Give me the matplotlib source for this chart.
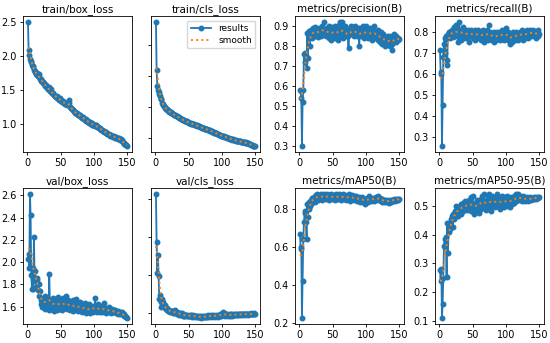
# Training results plot (YOLO style results.png)
import numpy as np
import matplotlib
matplotlib.use("Agg")
import matplotlib.pyplot as plt
from matplotlib.ticker import MultipleLocator

# Epoch numbers
epochs = list(range(1, 151))

# Panel titles
titles = ["train/box_loss", "train/cls_loss", "metrics/precision(B)", "metrics/recall(B)",
          "val/box_loss", "val/cls_loss", "metrics/mAP50(B)", "metrics/mAP50-95(B)"]

train_box_loss = [
    2.50, 2.09, 2.01, 1.96, 1.92, 1.93, 1.87, 1.84, 1.85, 1.80,
    1.78, 1.76, 1.74, 1.75, 1.72, 1.71, 1.73, 1.69, 1.67, 1.66,
    1.64, 1.63, 1.62, 1.60, 1.61, 1.58, 1.56, 1.57, 1.55, 1.53,
    1.52, 1.54, 1.50, 1.49, 1.51, 1.47, 1.46, 1.45, 1.46, 1.43,
    1.42, 1.41, 1.40, 1.41, 1.39, 1.38, 1.37, 1.36, 1.38, 1.35,
    1.34, 1.33, 1.32, 1.34, 1.31, 1.30, 1.29, 1.31, 1.28, 1.30,
    1.33, 1.36, 1.31, 1.25, 1.24, 1.23, 1.22, 1.20, 1.21, 1.19,
    1.18, 1.16, 1.17, 1.15, 1.16, 1.14, 1.15, 1.13, 1.12, 1.13,
    1.11, 1.10, 1.09, 1.10, 1.08, 1.07, 1.06, 1.07, 1.05, 1.04,
    1.05, 1.03, 1.02, 1.03, 1.01, 1.00, 1.01, 0.99, 0.98, 0.99,
    0.98, 0.97, 0.99, 0.98, 0.96, 0.95, 0.96, 0.94, 0.93, 0.94,
    0.92, 0.91, 0.92, 0.90, 0.89, 0.90, 0.88, 0.87, 0.88, 0.86,
    0.86, 0.85, 0.86, 0.84, 0.83, 0.84, 0.83, 0.82, 0.81, 0.82,
    0.81, 0.80, 0.81, 0.79, 0.80, 0.79, 0.78, 0.79, 0.77, 0.78,
    0.78, 0.76, 0.75, 0.73, 0.72, 0.71, 0.70, 0.69, 0.69, 0.68]

# cls_loss panels have no tick labels, so the scale is only relative
train_cls_loss = [
    4.75, 3.20, 2.70, 2.55, 2.50, 2.42, 2.35, 2.28, 2.25, 2.12,
    2.10, 2.08, 2.04, 2.00, 1.98, 1.95, 1.93, 1.92, 1.90, 1.88,
    1.86, 1.84, 1.83, 1.81, 1.80, 1.78, 1.77, 1.76, 1.75, 1.74,
    1.72, 1.71, 1.70, 1.68, 1.67, 1.66, 1.65, 1.63, 1.62, 1.61,
    1.60, 1.58, 1.57, 1.56, 1.55, 1.54, 1.55, 1.53, 1.52, 1.50,
    1.49, 1.50, 1.48, 1.47, 1.46, 1.47, 1.45, 1.44, 1.43, 1.42,
    1.41, 1.42, 1.40, 1.39, 1.38, 1.39, 1.37, 1.36, 1.35, 1.34,
    1.33, 1.32, 1.33, 1.31, 1.30, 1.29, 1.30, 1.28, 1.27, 1.26,
    1.25, 1.24, 1.25, 1.23, 1.22, 1.21, 1.20, 1.19, 1.18, 1.17,
    1.16, 1.15, 1.14, 1.13, 1.12, 1.11, 1.10, 1.09, 1.08, 1.07,
    1.07, 1.06, 1.05, 1.06, 1.04, 1.03, 1.02, 1.01, 1.00, 1.00,
    0.99, 0.98, 0.97, 0.98, 0.96, 0.95, 0.96, 0.94, 0.93, 0.93,
    0.92, 0.93, 0.91, 0.90, 0.91, 0.90, 0.89, 0.90, 0.88, 0.88,
    0.87, 0.88, 0.86, 0.86, 0.85, 0.86, 0.84, 0.83, 0.84, 0.83,
    0.82, 0.81, 0.80, 0.79, 0.78, 0.77, 0.76, 0.76, 0.75, 0.75]

precision = [
    0.580, 0.575, 0.540, 0.303, 0.520, 0.580, 0.760, 0.765, 0.720, 0.750,
    0.690, 0.865, 0.740, 0.850, 0.875, 0.800, 0.880, 0.860, 0.840, 0.890,
    0.870, 0.880, 0.850, 0.895, 0.860, 0.880, 0.870, 0.845, 0.890, 0.875,
    0.860, 0.880, 0.850, 0.900, 0.870, 0.885, 0.920, 0.865, 0.880, 0.850,
    0.890, 0.860, 0.875, 0.900, 0.840, 0.880, 0.830, 0.870, 0.895, 0.850,
    0.860, 0.880, 0.900, 0.840, 0.870, 0.850, 0.880, 0.830, 0.905, 0.860,
    0.920, 0.870, 0.850, 0.920, 0.880, 0.840, 0.890, 0.860, 0.900, 0.850,
    0.870, 0.880, 0.850, 0.790, 0.860, 0.890, 0.870, 0.900, 0.860, 0.880,
    0.890, 0.850, 0.870, 0.900, 0.860, 0.880, 0.850, 0.890, 0.870, 0.800,
    0.860, 0.890, 0.850, 0.880, 0.870, 0.900, 0.840, 0.860, 0.880, 0.850,
    0.900, 0.860, 0.870, 0.840, 0.880, 0.850, 0.890, 0.860, 0.830, 0.870,
    0.880, 0.850, 0.900, 0.860, 0.840, 0.870, 0.850, 0.880, 0.830, 0.860,
    0.820, 0.850, 0.870, 0.810, 0.840, 0.860, 0.820, 0.850, 0.800, 0.840,
    0.830, 0.810, 0.850, 0.820, 0.840, 0.800, 0.830, 0.850, 0.810, 0.780,
    0.820, 0.840, 0.860, 0.830, 0.850, 0.820, 0.840, 0.830, 0.840, 0.835]

recall = [
    0.715, 0.610, 0.600, 0.257, 0.450, 0.680, 0.740, 0.770, 0.700, 0.780,
    0.640, 0.665, 0.790, 0.780, 0.800, 0.770, 0.805, 0.790, 0.810, 0.775,
    0.790, 0.820, 0.780, 0.800, 0.830, 0.790, 0.810, 0.750, 0.800, 0.845,
    0.780, 0.810, 0.760, 0.800, 0.820, 0.790, 0.770, 0.810, 0.800, 0.780,
    0.800, 0.770, 0.810, 0.790, 0.750, 0.800, 0.780, 0.810, 0.790, 0.770,
    0.800, 0.780, 0.810, 0.760, 0.790, 0.800, 0.770, 0.810, 0.780, 0.790,
    0.770, 0.800, 0.760, 0.790, 0.810, 0.780, 0.750, 0.790, 0.800, 0.770,
    0.780, 0.810, 0.760, 0.830, 0.790, 0.770, 0.800, 0.780, 0.760, 0.790,
    0.770, 0.800, 0.750, 0.780, 0.790, 0.760, 0.800, 0.770, 0.780, 0.790,
    0.760, 0.800, 0.780, 0.770, 0.810, 0.790, 0.760, 0.800, 0.780, 0.815,
    0.790, 0.770, 0.800, 0.760, 0.780, 0.740, 0.790, 0.770, 0.750, 0.780,
    0.800, 0.770, 0.790, 0.760, 0.780, 0.800, 0.770, 0.790, 0.760, 0.790,
    0.800, 0.770, 0.790, 0.810, 0.780, 0.760, 0.800, 0.790, 0.770, 0.800,
    0.780, 0.810, 0.790, 0.770, 0.800, 0.790, 0.810, 0.780, 0.800, 0.790,
    0.810, 0.780, 0.800, 0.790, 0.770, 0.800, 0.790, 0.810, 0.780, 0.790]

val_box_loss = [
    2.03, 2.07, 1.95, 2.61, 2.42, 1.88, 1.76, 1.95, 1.76, 2.23,
    1.83, 1.92, 1.78, 1.84, 1.86, 1.75, 1.80, 1.70, 1.74, 1.62,
    1.66, 1.60, 1.68, 1.62, 1.64, 1.70, 1.58, 1.66, 1.60, 1.68,
    1.62, 1.57, 1.89, 1.64, 1.58, 1.66, 1.60, 1.68, 1.62, 1.56,
    1.65, 1.59, 1.67, 1.61, 1.57, 1.69, 1.62, 1.58, 1.66, 1.60,
    1.64, 1.57, 1.68, 1.61, 1.59, 1.65, 1.60, 1.70, 1.62, 1.58,
    1.66, 1.60, 1.63, 1.57, 1.64, 1.59, 1.61, 1.56, 1.66, 1.60,
    1.58, 1.62, 1.67, 1.59, 1.57, 1.63, 1.56, 1.61, 1.58, 1.64,
    1.57, 1.60, 1.55, 1.62, 1.58, 1.56, 1.63, 1.57, 1.54, 1.60,
    1.58, 1.55, 1.62, 1.57, 1.54, 1.59, 1.56, 1.61, 1.55, 1.57,
    1.59, 1.68, 1.56, 1.60, 1.55, 1.58, 1.62, 1.56, 1.59, 1.55,
    1.57, 1.61, 1.55, 1.58, 1.63, 1.56, 1.59, 1.54, 1.57, 1.55,
    1.58, 1.56, 1.60, 1.55, 1.57, 1.54, 1.58, 1.56, 1.55, 1.57,
    1.55, 1.57, 1.54, 1.56, 1.55, 1.53, 1.56, 1.54, 1.55, 1.53,
    1.54, 1.53, 1.55, 1.53, 1.52, 1.53, 1.52, 1.51, 1.51, 1.50]

val_cls_loss = [
    4.13, 2.86, 2.04, 2.53, 1.97, 1.37, 1.46, 1.28, 1.15, 1.37,
    1.22, 1.30, 1.18, 1.12, 1.20, 1.10, 1.08, 1.14, 1.06, 1.05,
    1.08, 1.03, 1.06, 1.02, 1.05, 1.00, 1.04, 0.99, 1.03, 1.08,
    1.00, 0.97, 1.02, 0.96, 0.99, 0.95, 1.00, 0.94, 0.97, 1.01,
    0.93, 0.96, 0.92, 0.95, 0.91, 0.94, 0.92, 0.95, 0.91, 0.93,
    0.92, 0.94, 0.91, 0.95, 0.90, 0.92, 0.94, 0.91, 0.93, 0.90,
    0.92, 0.89, 0.93, 0.90, 0.88, 0.91, 0.89, 0.92, 0.87, 0.90,
    0.88, 0.91, 0.89, 0.93, 0.90, 0.88, 0.92, 0.90, 0.94, 0.91,
    0.89, 0.93, 0.91, 0.95, 0.90, 0.92, 0.94, 0.91, 0.93, 0.90,
    0.92, 0.95, 0.91, 0.93, 0.90, 0.94, 0.92, 0.96, 0.93, 0.95,
    0.98, 1.03, 0.95, 0.99, 0.93, 0.96, 0.94, 0.97, 0.92, 0.95,
    0.94, 0.97, 0.93, 0.96, 0.95, 0.93, 0.97, 0.95, 0.94, 0.96,
    0.95, 0.97, 0.94, 0.96, 0.95, 0.97, 0.96, 0.95, 0.97, 0.96,
    0.95, 0.97, 0.96, 0.98, 0.95, 0.97, 0.96, 0.98, 0.97, 0.95,
    0.98, 0.96, 0.97, 0.99, 0.96, 0.98, 0.97, 0.99, 0.97, 0.98]

map50 = [
    0.668, 0.600, 0.590, 0.225, 0.420, 0.640, 0.730, 0.780, 0.790, 0.735,
    0.640, 0.830, 0.760, 0.800, 0.840, 0.820, 0.850, 0.830, 0.860, 0.845,
    0.860, 0.850, 0.870, 0.840, 0.875, 0.860, 0.880, 0.850, 0.870, 0.860,
    0.875, 0.860, 0.880, 0.850, 0.870, 0.865, 0.880, 0.860, 0.875, 0.855,
    0.870, 0.880, 0.860, 0.875, 0.850, 0.870, 0.865, 0.880, 0.855, 0.870,
    0.860, 0.875, 0.850, 0.865, 0.880, 0.860, 0.870, 0.855, 0.880, 0.865,
    0.870, 0.850, 0.875, 0.860, 0.880, 0.855, 0.870, 0.860, 0.875, 0.850,
    0.865, 0.870, 0.855, 0.880, 0.860, 0.870, 0.845, 0.865, 0.875, 0.855,
    0.860, 0.870, 0.850, 0.865, 0.855, 0.870, 0.845, 0.860, 0.850, 0.865,
    0.855, 0.840, 0.860, 0.850, 0.865, 0.840, 0.855, 0.845, 0.830, 0.850,
    0.845, 0.860, 0.840, 0.855, 0.870, 0.850, 0.860, 0.845, 0.855, 0.850,
    0.860, 0.845, 0.855, 0.850, 0.865, 0.855, 0.860, 0.850, 0.870, 0.855,
    0.860, 0.850, 0.845, 0.855, 0.840, 0.850, 0.845, 0.840, 0.850, 0.845,
    0.840, 0.850, 0.845, 0.840, 0.835, 0.845, 0.850, 0.840, 0.845, 0.850,
    0.845, 0.850, 0.855, 0.845, 0.850, 0.855, 0.850, 0.855, 0.850, 0.855]

map50_95 = [
    0.278, 0.240, 0.280, 0.111, 0.158, 0.250, 0.360, 0.385, 0.355, 0.390,
    0.252, 0.440, 0.335, 0.410, 0.440, 0.420, 0.455, 0.430, 0.465, 0.425,
    0.470, 0.455, 0.480, 0.460, 0.500, 0.475, 0.490, 0.465, 0.495, 0.480,
    0.500, 0.470, 0.505, 0.490, 0.510, 0.480, 0.500, 0.515, 0.490, 0.505,
    0.485, 0.510, 0.495, 0.520, 0.490, 0.505, 0.530, 0.480, 0.500, 0.535,
    0.495, 0.470, 0.510, 0.500, 0.485, 0.520, 0.495, 0.510, 0.475, 0.515,
    0.500, 0.525, 0.490, 0.535, 0.505, 0.515, 0.540, 0.495, 0.510, 0.485,
    0.520, 0.505, 0.530, 0.490, 0.540, 0.510, 0.525, 0.480, 0.515, 0.535,
    0.500, 0.520, 0.505, 0.495, 0.530, 0.510, 0.540, 0.500, 0.520, 0.505,
    0.525, 0.490, 0.515, 0.535, 0.505, 0.520, 0.495, 0.530, 0.515, 0.505,
    0.520, 0.535, 0.500, 0.525, 0.510, 0.495, 0.530, 0.515, 0.525, 0.505,
    0.520, 0.535, 0.510, 0.525, 0.540, 0.515, 0.530, 0.520, 0.540, 0.525,
    0.535, 0.520, 0.530, 0.515, 0.525, 0.535, 0.520, 0.530, 0.515, 0.525,
    0.520, 0.530, 0.525, 0.515, 0.520, 0.530, 0.525, 0.520, 0.528, 0.522,
    0.525, 0.530, 0.522, 0.528, 0.525, 0.530, 0.527, 0.530, 0.528, 0.530]

series = [train_box_loss, train_cls_loss, precision, recall,
          val_box_loss, val_cls_loss, map50, map50_95]

# y tick step per panel (as in the reference)
ystep = [0.5, 1.0, 0.1, 0.1, 0.2, 1.0, 0.2, 0.1]


def gaussian_smooth(y, sigma=3):
    # same as scipy gaussian_filter1d (reflect mode, truncate=4)
    r = int(4 * sigma + 0.5)
    k = np.exp(-0.5 * (np.arange(-r, r + 1) / sigma) ** 2)
    k /= k.sum()
    yp = np.pad(np.asarray(y, dtype=float), r, mode="symmetric")
    return np.convolve(yp, k, mode="valid")


W, H = 550, 343
fig = plt.figure(figsize=(W / 100, H / 100), dpi=100)

# Axes boxes in pixels: left, top
lefts = [23, 151, 295, 435]
tops = [16, 188]
aw, ah = 109, 136

for i, (title, y) in enumerate(zip(titles, series)):
    row, col = divmod(i, 4)
    ax = fig.add_axes([lefts[col] / W, 1 - (tops[row] + ah) / H, aw / W, ah / H])
    ax.plot(epochs, y, marker=".", label="results", linewidth=1.3, markersize=6.5,
            color="#1f77b4")
    ax.plot(epochs, gaussian_smooth(y), ":", label="smooth", linewidth=1.4,
            color="#ff7f0e")
    ax.set_title(title, fontsize=7.5, pad=3)
    ax.set_xticks([0, 50, 100, 150])
    ax.yaxis.set_major_locator(MultipleLocator(ystep[i]))
    ax.tick_params(labelsize=7, length=2.5, width=0.6, pad=2)
    for s in ax.spines.values():
        s.set_linewidth(0.6)
    if "cls_loss" in title:
        # no tick labels on these panels in the reference
        ax.set_yticklabels([])
    if i == 1:
        ax.legend(fontsize=6.5, loc="upper right", handlelength=2.2,
                  borderpad=0.4, labelspacing=0.3)

fig.savefig("out.png", dpi=100)
